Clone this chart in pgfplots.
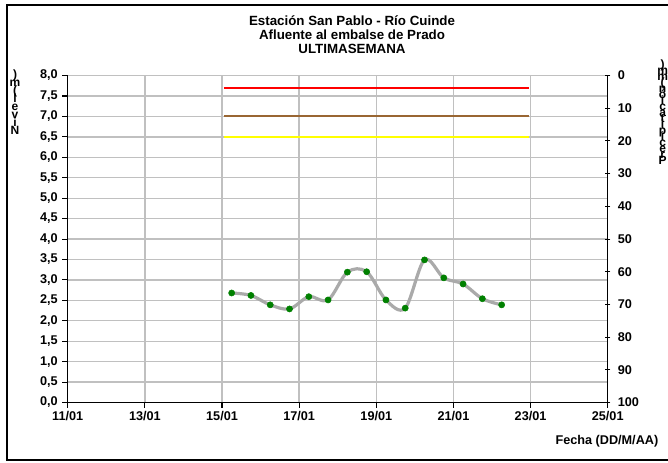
\documentclass[border=0pt]{standalone}
\usepackage{fontspec}
\setmainfont{Liberation Sans}
\usepackage{pgfplots}
\pgfplotsset{compat=1.18}
\definecolor{gridc}{RGB}{192,192,192}
\definecolor{linec}{RGB}{170,170,170}
\definecolor{markc}{RGB}{0,128,0}
\definecolor{brownc}{RGB}{153,102,51}
\definecolor{yellowc}{RGB}{255,255,0}
\tikzset{stack/.style={align=center, inner sep=0pt,
  font={\bfseries\fontsize{9}{#1}\selectfont\lineskiplimit=-100pt\lineskip=0pt}}}

\pgfplotstableread{
x     y
15.25 2.68
15.75 2.62
16.25 2.39
16.75 2.29
17.25 2.59
17.75 2.51
18.25 3.19
18.75 3.20
19.25 2.51
19.75 2.31
20.25 3.49
20.75 3.05
21.25 2.90
21.75 2.54
22.25 2.39
}\nivel

\begin{document}
\begin{tikzpicture}[x=0.75pt,y=0.75pt]
\useasboundingbox (0,0) rectangle (668,462);
% frame
\draw[line width=1.6pt] (672,457) -- (6.7,457) -- (6.7,2) -- (672,2);

\pgfplotsset{every axis/.append style={
  scale only axis, width=405pt, height=245.25pt,
  at={(50.8pt,44.6pt)}, anchor=south west,
  xmin=11, xmax=25,
  tick style={black, line width=0.8pt},
  major tick length=4pt,
  tick label style={font=\bfseries\fontsize{9.5}{11}\selectfont},
  /pgf/number format/assume math mode=true,
}}

\begin{axis}[
  ymin=0, ymax=8,
  axis x line*=bottom, axis y line*=left,
  axis line style={line width=1.1pt},
  tick align=outside,
  xtick={11,13,...,25},
  xticklabels={11/01,13/01,15/01,17/01,19/01,21/01,23/01,25/01},
  ytick={0,0.5,...,8},
  yticklabel style={/pgf/number format/.cd, fixed, fixed zerofill, precision=1, use comma},
  grid=major, grid style={gridc, line width=1pt},
  xticklabel style={yshift=1pt},
]
\addplot[red, line width=1.6pt] coordinates {(15.05,7.70)(22.95,7.70)};
\addplot[brownc, line width=1.6pt] coordinates {(15.05,7.00)(22.95,7.00)};
\addplot[yellowc, line width=1.6pt] coordinates {(15.05,6.50)(22.95,6.50)};
\addplot[linec, line width=2.4pt, smooth, tension=0.55, no marks] table {\nivel};
\addplot[only marks, mark=*, mark size=2.3pt, color=markc, fill=markc] table {\nivel};
\end{axis}

\begin{axis}[
  ymin=0, ymax=100, y dir=reverse,
  axis x line=none, axis y line*=right,
  axis line style={line width=1.1pt},
  tick align=center,
  ytick={0,10,...,100},
  yticklabel style={xshift=2pt},
]
\addplot[draw=none] coordinates {(11,0)(25,100)};
\end{axis}

\node[align=center, font=\bfseries\fontsize{10}{10.5}\selectfont] at (352,427)
  {Estación San Pablo - Río Cuinde\\Afluente al embalse de Prado\\ULTIMASEMANA};
\node[anchor=east, font=\bfseries\fontsize{9.5}{11}\selectfont] at (663,21) {Fecha (DD/M/AA)};
\node[stack=6pt, anchor=north] at (15,392) {)\\m\\(\\l\\e\\v\\i\\N};
\node[stack=4.5pt, anchor=north west] at (657,402) {)\\m\\m\\(\\n\\ó\\i\\c\\a\\t\\i\\p\\i\\c\\e\\r\\P};
\end{tikzpicture}
\end{document}
